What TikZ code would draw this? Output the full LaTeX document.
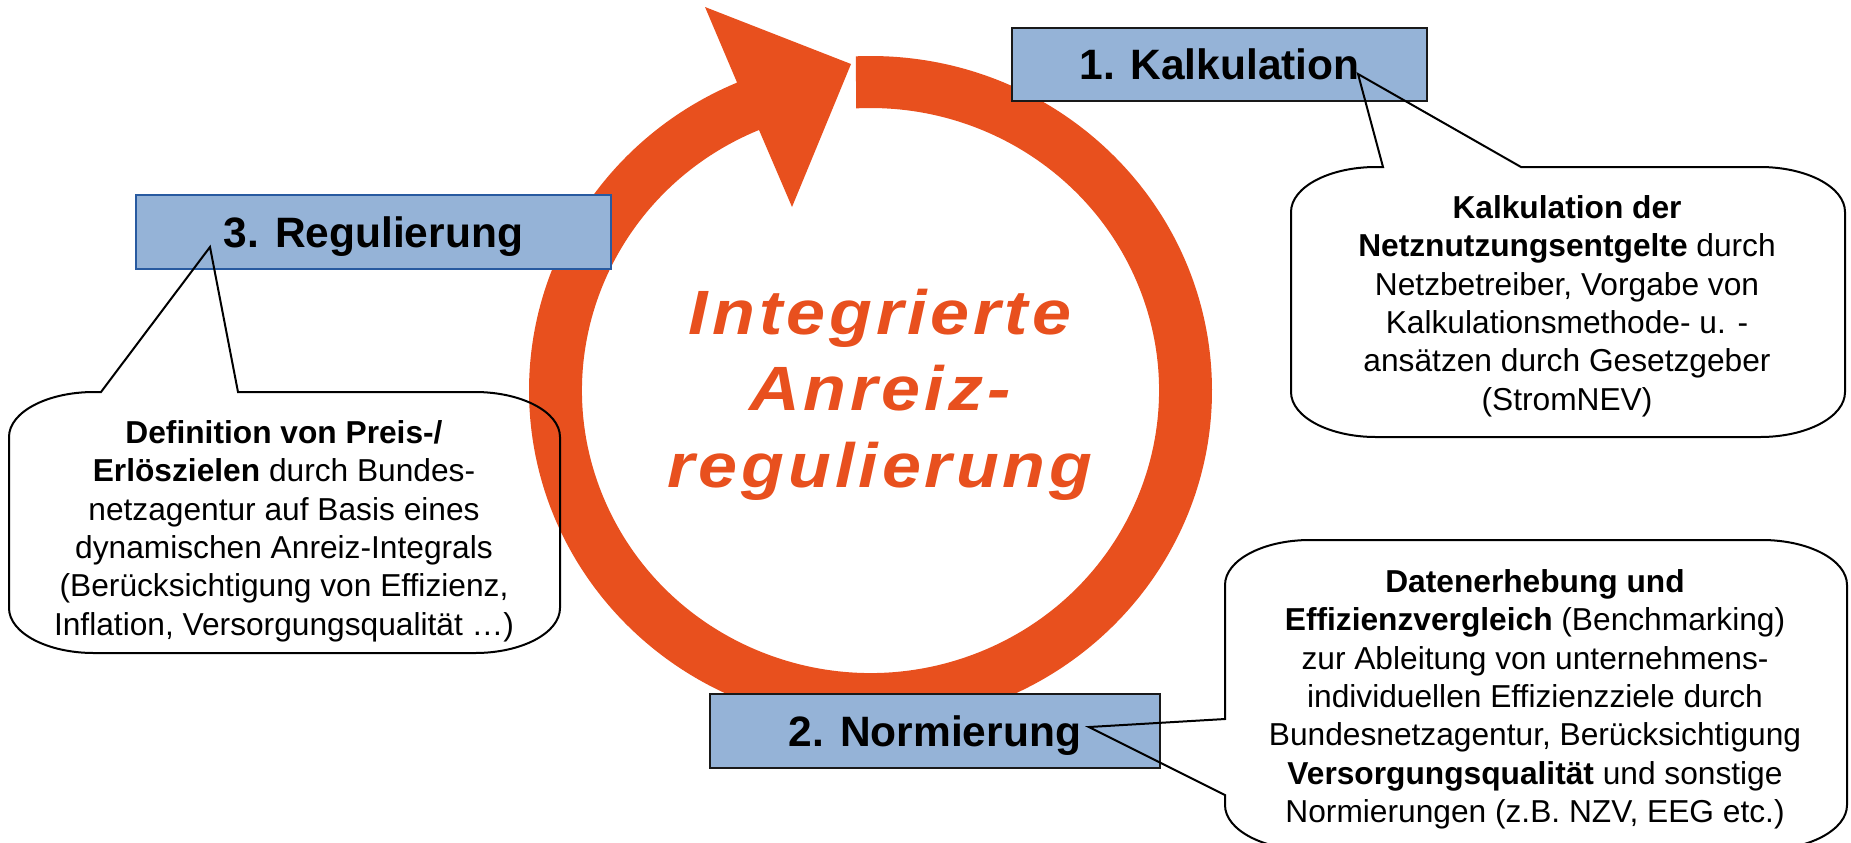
\documentclass[tikz,border=0pt]{standalone}
\usepackage{fontspec}
\setmainfont{Liberation Sans}
\newfontfamily\ringfont[LetterSpace=6.3,FakeStretch=1.12]{Liberation Sans}
\definecolor{ringorange}{RGB}{232,80,30}
\definecolor{boxblue}{RGB}{149,179,215}
\definecolor{boxblueline}{RGB}{40,90,160}
\definecolor{boxdark}{RGB}{25,25,25}
\begin{document}
\begin{tikzpicture}[x=0.5pt,y=-0.5pt,
  stagebox/.style={draw=boxdark, fill=boxblue, line width=1.2pt, inner sep=0pt,
    font=\fontsize{21.25}{25}\selectfont\bfseries, text height=15.3pt, text depth=0pt},
  callout/.style={draw=black, line width=1pt, x radius=85, y radius=45},
  callouttext/.style={align=center, inner sep=0pt, anchor=north,
    font=\fontsize{15.85}{19.2}\selectfont},
  ringtext/.style={align=center, inner sep=0pt, anchor=north, text=ringorange,
    font=\ringfont\bfseries\itshape\fontsize{31.3}{38.25}\selectfont}
]
\useasboundingbox (0,0) rectangle (1851,842);

% circular arrow
\fill[ringorange] ([shift={(870.5,390.5)}]267.56:341.5 and 334.5)
  arc[start angle=267.56, end angle=607, x radius=341.5, y radius=334.5]
  -- (705,7) -- (851,64) -- (792,207)
  -- ([shift={(870.5,390.5)}]607.26:288.5 and 282.5)
  arc[start angle=607.26, end angle=267.12, x radius=288.5, y radius=282.5]
  -- cycle;

\node[ringtext] (title) at (880,280.5) {\strut Integrierte\\Anreiz-\\regulierung\strut};

% stage boxes
\node[stagebox, minimum width=207.5pt, minimum height=36.5pt] (kalk) at (1219.5,64.5) {1. Kalkulation};
\node[stagebox, draw=boxblueline, minimum width=237.5pt, minimum height=37pt] (regu) at (373.5,232) {3. Regulierung};
\node[stagebox, minimum width=225pt, minimum height=37pt] (norm) at (935,731) {2. Normierung};

% callouts
\coordinate (tipk) at (1358,74);
\coordinate (tipr) at (210,247);
\coordinate (tipn) at (1089,727);

\draw[callout] (1383,167) -- (tipk) -- (1521,167) -- (1760,167)
  arc[start angle=270,end angle=360] -- (1845,392)
  arc[start angle=0,end angle=90] -- (1376,437)
  arc[start angle=90,end angle=180] -- (1291,212)
  arc[start angle=180,end angle=270] -- cycle;

\draw[callout] (101,392) -- (tipr) -- (238,392) -- (475,392)
  arc[start angle=270,end angle=360] -- (560,608)
  arc[start angle=0,end angle=90] -- (94,653)
  arc[start angle=90,end angle=180] -- (9,437)
  arc[start angle=180,end angle=270] -- cycle;

\draw[callout] (1225,795) -- (tipn) -- (1225,719) -- (1225,585)
  arc[start angle=180,end angle=270] -- (1762,540)
  arc[start angle=270,end angle=360] -- (1847,805)
  arc[start angle=0,end angle=90] -- (1310,850)
  arc[start angle=90,end angle=180] -- cycle;

\node[callouttext] (kalktext) at (1567,191) {\strut\textbf{Kalkulation der}\\
  \textbf{Netznutzungsentgelte} durch\\
  Netzbetreiber, Vorgabe von\\
  Kalkulationsmethode- u. -\\
  ansätzen durch Gesetzgeber\\
  (StromNEV)\strut};

\node[callouttext] (regutext) at (284,416) {\strut\textbf{Definition von Preis-/}\\
  \textbf{Erlöszielen} durch Bundes-\\
  netzagentur auf Basis eines\\
  dynamischen Anreiz-Integrals\\
  (Berücksichtigung von Effizienz,\\
  Inflation, Versorgungsqualität …)\strut};

\node[callouttext] (normtext) at (1535,565) {\strut\textbf{Datenerhebung und}\\
  \textbf{Effizienzvergleich} (Benchmarking)\\
  zur Ableitung von unternehmens-\\
  individuellen Effizienzziele durch\\
  Bundesnetzagentur, Berücksichtigung\\
  \textbf{Versorgungsqualität} und sonstige\\
  Normierungen (z.B. NZV, EEG etc.)\strut};
\end{tikzpicture}
\end{document}
